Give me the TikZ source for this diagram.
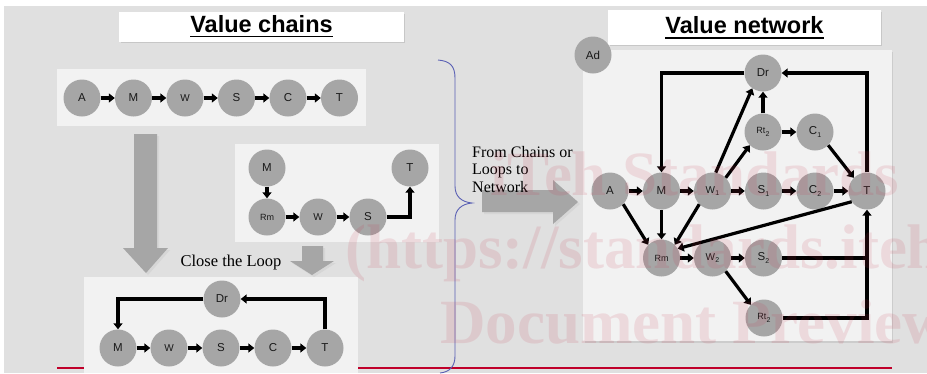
\documentclass[tikz,border=0pt]{standalone}
\usepackage{fontspec}
\setmainfont{Liberation Serif}
\setsansfont{Liberation Sans}
\usetikzlibrary{arrows.meta}

\definecolor{slidebg}{HTML}{E0E0E0}
\definecolor{panel}{HTML}{F2F2F2}
\definecolor{disc}{HTML}{A6A6A6}
\definecolor{bracecol}{HTML}{5A60B4}
\definecolor{rulered}{HTML}{C0002A}
\definecolor{markpink}{HTML}{C8324B}

\newcommand\fs[1]{\fontsize{#1}{#1}\selectfont}
\newcommand\lowidx[1]{\kern0.2pt\raisebox{-2.5pt}{\fs{7}#1}}

\begin{document}
\begin{tikzpicture}[x=1pt,y=-1pt,
  disc/.style={circle,fill=disc,minimum size=37pt,inner sep=0pt,text=black!90,font=\sffamily\fs{11.5}},
  smalltext/.style={font=\sffamily\fs{9}},
  midtext/.style={font=\sffamily\fs{10}},
  flow/.style={line width=3.2pt,-{Triangle[length=6pt,width=9pt]}},
  link/.style={line width=3.2pt},
  panelbox/.style={fill=panel},
  bigarrow/.style={fill=disc},
  arrowshade/.style={fill=black!16},
  titlefont/.style={inner sep=0pt,font=\sffamily\bfseries\fs{23.5}},
  serifnote/.style={inner sep=0pt,font=\rmfamily\fs{16.5}},
  watermark/.style={inner sep=0pt,anchor=base west,text=markpink,text opacity=0.13,font=\rmfamily\bfseries\fs{63}},
]
\useasboundingbox (0,0) rectangle (927,373);
\fill[white] (0,0) rectangle (927,373);
\fill[slidebg] (4,6) rectangle (927,373);

% ---------- titles ----------
\fill[black!22] (121,14) rectangle (405,43);
\fill[white] (119,12) rectangle (404,42);
\node[titlefont,anchor=base] (ttlchain) at (261.5,32) {Value chains};
\draw[line width=1.8pt] ([yshift=-4.5pt]ttlchain.base west) -- ([yshift=-4.5pt]ttlchain.base east);

\fill[black!22] (610,12) rectangle (882,46);
\fill[white] (608,10) rectangle (881,45);
\node[titlefont,anchor=base] (ttlnet) at (744.5,33) {Value network};
\draw[line width=1.8pt] ([yshift=-5pt]ttlnet.base west) -- ([yshift=-5pt]ttlnet.base east);

% ---------- red rule ----------
\draw[rulered,line width=2.6pt] (57,368) -- (892,368);

% ---------- chain 1 ----------
\fill[panelbox] (57,69) rectangle (366,126);
\node[disc] (caA) at (82,98) {A};
\node[disc] (caM) at (133.5,98) {M};
\node[disc,midtext] (caW) at (185,98) {W};
\node[disc] (caS) at (236.5,98) {S};
\node[disc] (caC) at (288,98) {C};
\node[disc] (caT) at (339.5,98) {T};
\foreach \u/\v in {caA/caM,caM/caW,caW/caS,caS/caC,caC/caT}
  \draw[flow] (\u) -- (\v);

% ---------- big down arrow ----------
\fill[arrowshade] (136,136) -- (159,136) -- (159,250) -- (170,250) -- (148,275) -- (125,250) -- (136,250) -- cycle;
\fill[bigarrow] (134,134) -- (157,134) -- (157,248) -- (168,248) -- (146,273) -- (123,248) -- (134,248) -- cycle;

% ---------- chain 2 ----------
\fill[panelbox] (235,144) rectangle (439,242);
\node[disc] (cbM) at (267,168) {M};
\node[disc] (cbT) at (410,168) {T};
\node[disc,smalltext] (cbRm) at (267,217) {Rm};
\node[disc,midtext] (cbW) at (318,217) {W};
\node[disc] (cbS) at (368,217) {S};
\draw[flow] (cbM) -- (cbRm);
\draw[flow] (cbRm) -- (cbW);
\draw[flow] (cbW) -- (cbS);
\draw[flow] (cbS.east) -| (cbT.south);

% ---------- small down arrow ----------
\fill[arrowshade] (304,248) -- (325,248) -- (325,263) -- (336,263) -- (314,277) -- (292,263) -- (304,263) -- cycle;
\fill[bigarrow] (302,246) -- (323,246) -- (323,261) -- (334,261) -- (312,275) -- (290,261) -- (302,261) -- cycle;

\node[serifnote,anchor=base] (closeloop) at (231,266.5) {Close the Loop};

% ---------- chain 3 (closed loop) ----------
\fill[panelbox] (84,277) rectangle (358,373);
\node[disc] (ccDr) at (222,299) {Dr};
\node[disc] (ccM) at (118,348) {M};
\node[disc,midtext] (ccW) at (169,348) {W};
\node[disc] (ccS) at (221,348) {S};
\node[disc] (ccC) at (273,348) {C};
\node[disc] (ccT) at (325,348) {T};
\foreach \u/\v in {ccM/ccW,ccW/ccS,ccS/ccC,ccC/ccT}
  \draw[flow] (\u) -- (\v);
\draw[flow] (ccDr.west) -| (ccM.north);
\draw[flow] (ccT.north) |- (ccDr.east);

% ---------- brace ----------
\draw[bracecol,line width=0.9pt]
  (438,60) .. controls (450,61) and (455,66) .. (455,78)
  -- (455,186) .. controls (455,197) and (462,202) .. (472,203)
  .. controls (462,204) and (455,209) .. (455,220)
  -- (455,356) .. controls (455,366) and (450,372) .. (440,373);

% ---------- arrow towards the network ----------
\fill[arrowshade] (484,192) -- (555,192) -- (555,182) -- (580,204) -- (555,226) -- (555,214) -- (484,214) -- cycle;
\fill[bigarrow] (482,190) -- (553,190) -- (553,180) -- (578,202) -- (553,224) -- (553,212) -- (482,212) -- cycle;
\node[serifnote,font=\rmfamily\fs{16},anchor=north west,align=left] (fromchains) at (472,146)
  {From Chains or\\[1.5pt]Loops to\\[1.5pt]Network};

% ---------- value network ----------
\fill[black!20] (585,52) rectangle (893,343);
\fill[panelbox] (583,50) rectangle (892,341);

\node[disc] (nAd) at (593,55) {Ad};
\node[disc] (nDr) at (763,73) {Dr};
\node[disc,smalltext] (nRtU) at (763,132) {Rt\lowidx{2}};
\node[disc] (nC1) at (815,132) {C\lowidx{1}};
\node[disc] (nA) at (610,191) {A};
\node[disc] (nM) at (661.5,191) {M};
\node[disc,midtext] (nW1) at (712.5,191) {W\lowidx{1}};
\node[disc] (nS1) at (763.5,191) {S\lowidx{1}};
\node[disc] (nC2) at (815,191) {C\lowidx{2}};
\node[disc] (nT) at (867,191) {T};
\node[disc,smalltext] (nRm) at (661.5,258) {Rm};
\node[disc,midtext] (nW2) at (712.5,258) {W\lowidx{2}};
\node[disc] (nS2) at (763.5,258) {S\lowidx{2}};
\node[disc,smalltext] (nRtL) at (764,318) {Rt\lowidx{2}};

\foreach \u/\v in {nA/nM,nM/nW1,nW1/nS1,nS1/nC2,nC2/nT,nRm/nW2,nW2/nS2,nRtU/nDr,nRtU/nC1,nM/nRm}
  \draw[flow] (\u) -- (\v);
\draw[flow] (nDr.west) -| (nM.north);
\draw[flow] (nT.north) |- (nDr.east);
\draw[flow] (nW1.80) -- (nDr.235);
\draw[flow] (nW1.45) -- (nRtU.225);
\draw[flow] (nC1.-45) -- (nT.135);
\draw[flow] (nA.-45) -- (nRm.135);
\draw[flow] (nW1.225) -- (nRm.45);
\draw[flow] (nT.215) -- (nRm.30);
\draw[flow] (nW2.-45) -- (nRtL.135);
\draw[link] (nS2.east) -- (nS2.east -| nT.south);
\draw[flow] (nRtL.east) -| (nT.south);

% ---------- watermark ----------
\node[watermark] (wmA) at (490,195) {iTeh Standards};
\node[watermark] (wmB) at (345,268) {(https://standards.iteh.ai)};
\node[watermark] (wmC) at (440,343) {Document Preview};
\end{tikzpicture}
\end{document}
